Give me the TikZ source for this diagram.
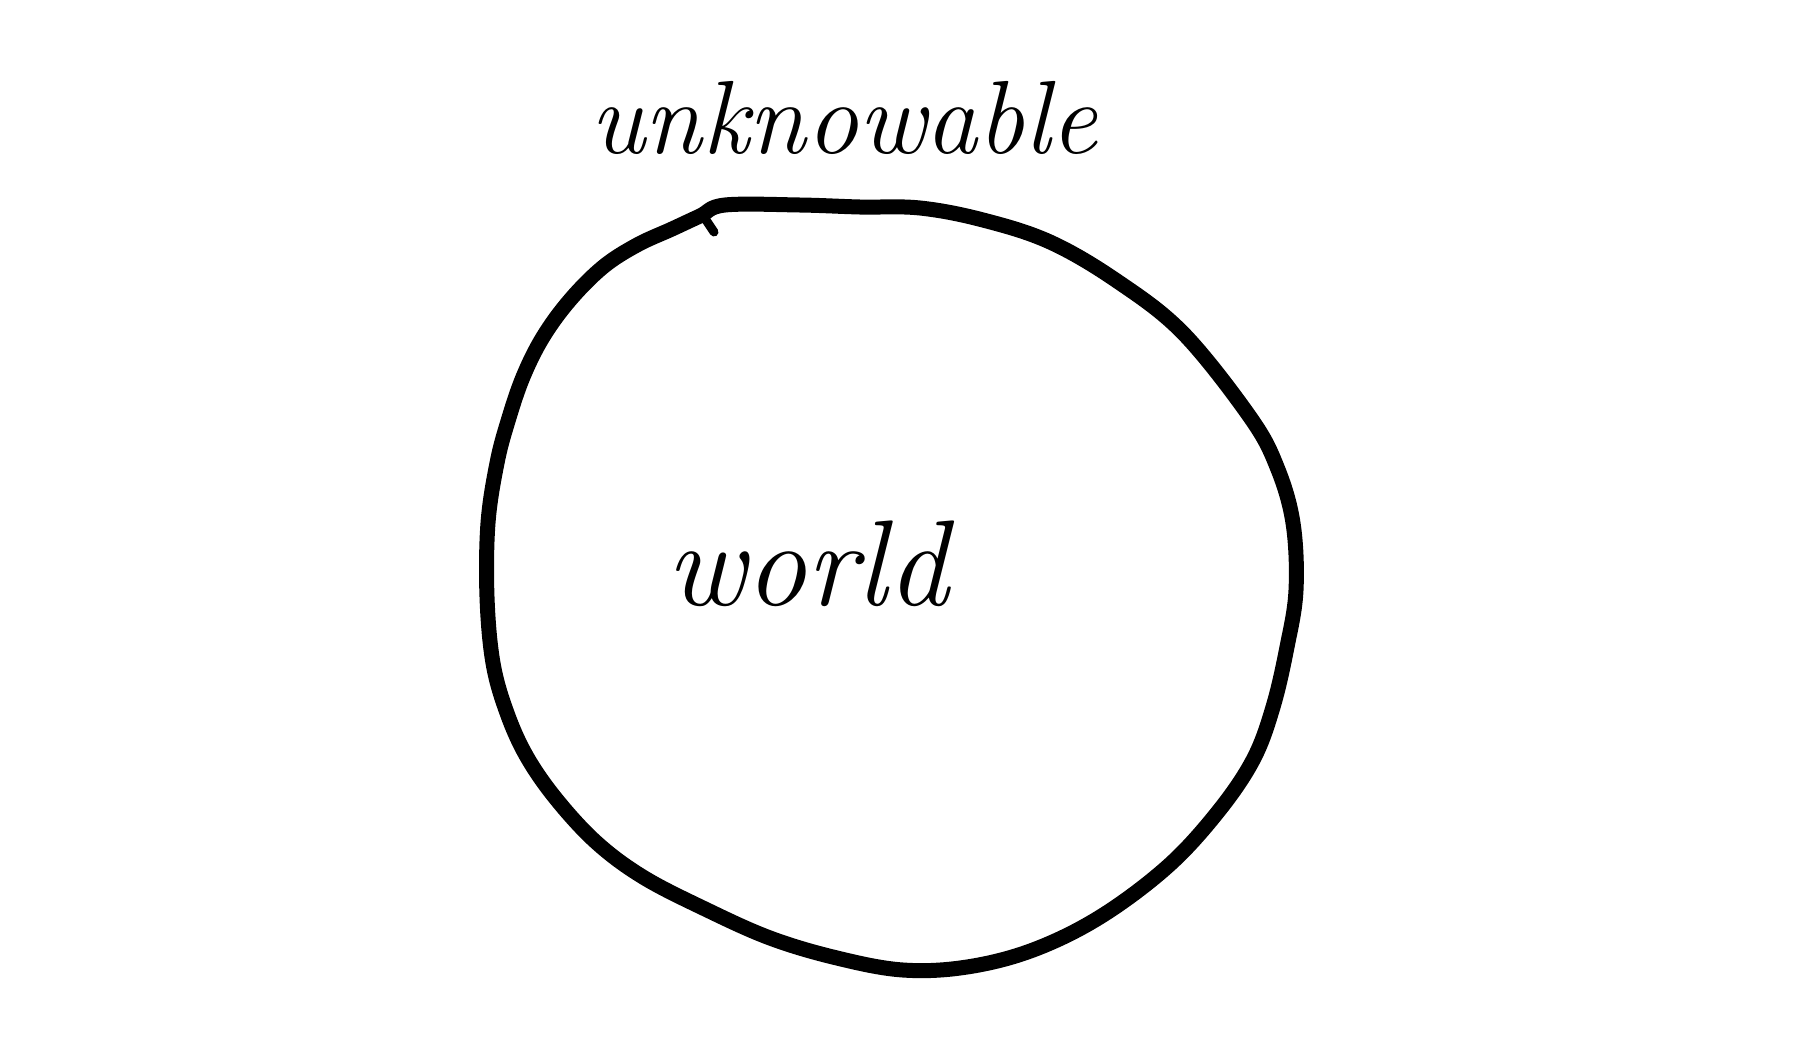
\documentclass[tikz,border=0pt]{standalone}
\begin{document}
\begin{tikzpicture}[x=1pt,y=-1pt,
  handline/.style={line width=15pt,line join=round,line cap=round},
  handtext/.style={inner sep=0pt,anchor=base west,font=\itshape}]
\useasboundingbox[fill=white] (0,0) rectangle (1806,1037);
\draw[handline] plot[smooth cycle,tension=0.6] coordinates {
 (725,205) (800,205) (860,207) (920,208) (983,220) (1050,242) (1117,281)
 (1183,333) (1250,417) (1277,467) (1293,523) (1296,590) (1287,647)
 (1273,707) (1253,760) (1217,813) (1167,867) (1100,917) (1033,950)
 (967,967) (903,970) (837,958) (770,938) (703,908) (643,877) (597,843)
 (557,800) (527,757) (507,713) (493,663) (487,597) (488,523) (497,463)
 (508,421) (523,377) (543,337) (570,300) (603,267) (637,245) (672,229)
 (700,216)};
\draw[line width=9pt,line cap=round] (706,220) -- (714,232);
\node[handtext,font=\itshape\fontsize{104}{104}\selectfont] (unk) at (590,153) {unknowable};
\node[handtext,font=\itshape\fontsize{122}{122}\selectfont] (world) at (666,605) {world};
\end{tikzpicture}
\end{document}
